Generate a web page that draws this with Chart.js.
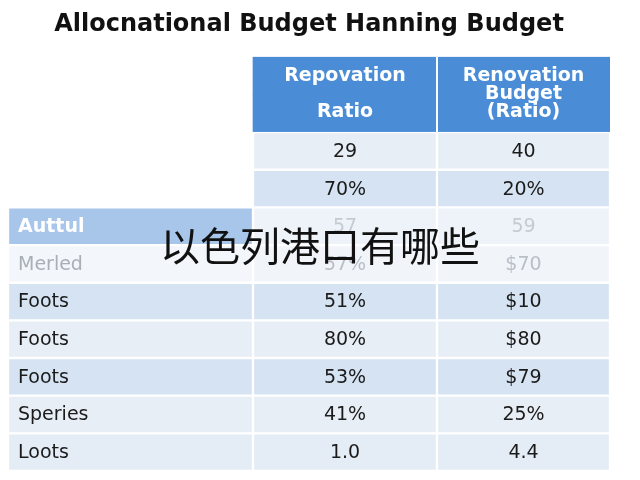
<!DOCTYPE html>
<html>
<head>
<meta charset="utf-8">
<script src="https://cdn.jsdelivr.net/npm/chart.js@4.4.0/dist/chart.umd.min.js"></script>
<style>
  html, body { margin: 0; padding: 0; background: #fff; }
  #wrap { width: 640px; height: 480px; }
</style>
</head>
<body>
<div id="wrap"><canvas id="tableChart"></canvas></div>
<script>
const TITLE = 'Allocnational Budget Hanning Budget';
const OVERLAY = '以色列港口有哪些';
const HEADERS = ['', 'Repovation\n\nRatio', 'Renovation\nBudget\n(Ratio)'];
const rowLabels = ['', '', 'Auttul', 'Merled', 'Foots', 'Foots', 'Foots', 'Speries', 'Loots'];
const ratioValues = ['29', '70%', '57', '57%', '51%', '80%', '53%', '41%', '1.0'];
const budgetValues = ['40', '20%', '59', '$70', '$10', '$80', '$79', '25%', '4.4'];

// layout: column edges in x units, header spans two slots
const COL_EDGES = [0, 245, 429, 602];
const slots = ['h1', 'h2'].concat(rowLabels.map((l, i) => 'r' + i));

const ROW_BG = ['#e8eef6', '#d5e3f3', '#eef3f9', '#f1f5fa', '#d5e3f3', '#e8eef6', '#d5e3f3', '#e8eef6', '#e4ecf6'];
const LABEL_BG = ['rgba(0,0,0,0)', 'rgba(0,0,0,0)', '#a7c6ea', '#f3f6fa'];
const HEADER_BG = '#4a8dd6';
const FONT = '"DejaVu Sans"';

function cellColor(col, slot) {
    if (slot < 2) return col === 0 ? 'rgba(0,0,0,0)' : HEADER_BG;
    let r = slot - 2;
    if (col === 0 && r < LABEL_BG.length) return LABEL_BG[r];
    return ROW_BG[r];
}

function textColor(col, r) {
    if (r === 2) return col === 0 ? '#ffffff' : '#c5cad1';
    if (r === 3) return col === 0 ? '#a9afb7' : '#b9bfc7';
    return '#1b1b1b';
}

function makeDataset(col) {
    return {
        label: 'col' + col,
        data: slots.map(() => [COL_EDGES[col], COL_EDGES[col + 1]]),
        backgroundColor: (c) => cellColor(col, c.dataIndex),
        borderColor: '#ffffff',
        borderWidth: (c) => c.dataIndex < 2 ? 0 : 1.5,
        borderSkipped: false,
        categoryPercentage: 1,
        barPercentage: 1
    };
}

const tablePlugin = {
    id: 'tableText',
    afterDatasetsDraw(chart) {
        const ctx = chart.ctx;
        const x = chart.scales.x, y = chart.scales.y;
        const half = y.getPixelForValue(1) - y.getPixelForValue(0);
        ctx.save();
        const hTop = y.getPixelForValue(0) - half / 2;
        const hBot = y.getPixelForValue(1) + half / 2;
        ctx.fillStyle = '#ffffff';
        ctx.fillRect(x.getPixelForValue(COL_EDGES[2]) - 1, hTop, 2, hBot - hTop);
        ctx.font = 'bold 19px ' + FONT;
        ctx.textAlign = 'center';
        ctx.textBaseline = 'middle';
        for (let c = 1; c < 3; c++) {
            const lines = HEADERS[c].split('\n');
            const cx = (x.getPixelForValue(COL_EDGES[c]) + x.getPixelForValue(COL_EDGES[c + 1])) / 2;
            const lh = 18;
            const cy = (hTop + hBot) / 2 - (lines.length - 1) * lh / 2;
            lines.forEach((t, i) => ctx.fillText(t, cx, cy + i * lh));
        }
        for (let r = 0; r < rowLabels.length; r++) {
            const cy = y.getPixelForValue(r + 2) + 1;
            const cells = [rowLabels[r], ratioValues[r], budgetValues[r]];
            cells.forEach((t, c) => {
                ctx.fillStyle = textColor(c, r);
                if (c === 0) {
                    ctx.textAlign = 'left';
                    ctx.font = (r === 2 ? 'bold ' : '') + '19px ' + FONT;
                    ctx.fillText(t, x.getPixelForValue(COL_EDGES[0]) + 10, cy);
                } else {
                    ctx.textAlign = 'center';
                    ctx.font = '19px ' + FONT;
                    ctx.fillText(t, (x.getPixelForValue(COL_EDGES[c]) + x.getPixelForValue(COL_EDGES[c + 1])) / 2, cy);
                }
            });
        }
        ctx.font = '40px "Noto Sans CJK SC"';
        ctx.textAlign = 'center';
        ctx.fillStyle = '#111111';
        ctx.fillText(OVERLAY, 320, 246);
        ctx.restore();
    }
};

new Chart(document.getElementById('tableChart'), {
    type: 'bar',
    data: {
        labels: slots,
        datasets: [makeDataset(0), makeDataset(1), makeDataset(2)]
    },
    options: {
        indexAxis: 'y',
        responsive: true,
        maintainAspectRatio: false,
        animation: false,
        layout: { padding: { left: 8, right: 30, top: 0, bottom: 9 } },
        scales: {
            x: { type: 'linear', min: 0, max: 602, display: false },
            y: { stacked: true, display: false }
        },
        plugins: {
            legend: { display: false },
            tooltip: { enabled: false },
            title: {
                display: true,
                text: TITLE,
                color: '#111111',
                font: { family: 'DejaVu Sans', size: 24, weight: 'bold' },
                padding: { top: 10, bottom: 18 }
            }
        }
    },
    plugins: [tablePlugin]
});
</script>
</body>
</html>
